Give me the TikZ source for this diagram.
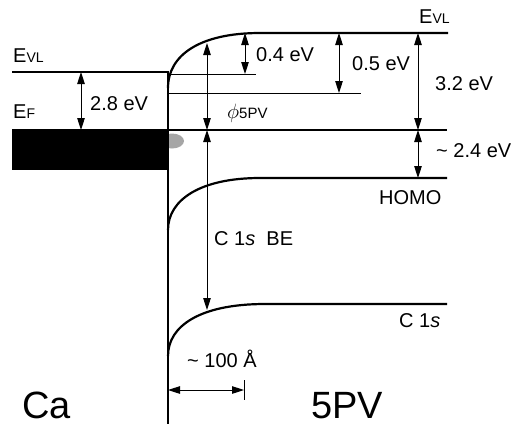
\documentclass[tikz,border=0pt]{standalone}
\usepackage{fontspec}
\setmainfont{Liberation Sans}
\usetikzlibrary{arrows.meta}

\newcommand{\lvlE}[1]{E{\fontsize{14}{16}\selectfont #1}}

\begin{document}
\begin{tikzpicture}[x=1pt, y=-1pt,
    level/.style={line width=2.2pt},
    thinlevel/.style={line width=1pt},
    dim/.style={line width=1pt, {Triangle[length=12pt,width=7.5pt]}-{Triangle[length=12pt,width=7.5pt]}},
    lbl/.style={font=\fontsize{20}{22}\selectfont, inner sep=0pt, anchor=base west},
    big/.style={font=\fontsize{38}{40}\selectfont, inner sep=0pt, anchor=base west},
]
    \useasboundingbox (0,0) rectangle (512,424);

    % metal side
    \fill[gray!70] (172,141) ellipse [x radius=12, y radius=7.5];
    \fill[black] (12,130) rectangle (168,170);
    \draw[level] (12,72) -- (168,72) -- (168,424);
    \draw[level] (12,130) -- (447,130);

    % 5PV levels with band bending
    \draw[level] (168,88) .. controls (168,55) and (200,33) .. (260,33) -- (448,33);
    \draw[level] (168,230) .. controls (168,200) and (200,178) .. (260,178) -- (447,178);
    \draw[level] (168,356) .. controls (168,326) and (200,304) .. (265,304) -- (447,304);
    \draw[thinlevel] (168,74) -- (256,74);
    \draw[thinlevel] (168,93) -- (361,93);

    % arrow ends
    \coordinate (caVL) at (81,72);
    \coordinate (caF) at (81,130);
    \coordinate (phiTop) at (207,43);
    \coordinate (phiBot) at (207,130);
    \coordinate (beBot) at (207,310);
    \coordinate (dA) at (245,33);
    \coordinate (dAbot) at (245,74);
    \coordinate (dB) at (339,33);
    \coordinate (dBbot) at (339,93);
    \coordinate (vlR) at (418,33);
    \coordinate (efR) at (418,130);
    \coordinate (homoR) at (418,178);
    \coordinate (wL) at (168,390);
    \coordinate (wR) at (244,390);

    \draw[dim] (caVL) -- (caF);
    \draw[dim] (phiTop) -- (phiBot);
    \draw[dim] (phiBot) -- (beBot);
    \draw[dim] (dA) -- (dAbot);
    \draw[dim] (dB) -- (dBbot);
    \draw[dim] (vlR) -- (efR);
    \draw[dim] (efR) -- (homoR);
    \draw[dim] (wL) -- (wR);
    \draw[thinlevel] (244,380) -- (244,400);

    % labels
    \node[lbl] (evlL) at (13,62) {\lvlE{VL}};
    \node[lbl] (efL) at (13,118) {\lvlE{F}};
    \node[lbl] (evlR) at (419,23) {\lvlE{VL}};
    \node[lbl] (e28) at (90,110) {2.8 eV};
    \node[lbl] (phi) at (227,118) {$\phi$\fontsize{15}{17}\selectfont 5PV};
    \node[lbl] (e04) at (256,61) {0.4 eV};
    \node[lbl] (e05) at (352,70) {0.5 eV};
    \node[lbl] (e32) at (435,90) {3.2 eV};
    \node[lbl] (e24) at (436,157) {\textasciitilde\ 2.4 eV};
    \node[lbl] (homo) at (379,204) {HOMO};
    \node[lbl] (be) at (214,245) {C 1\textit{s}\ \ BE};
    \node[lbl] (c1s) at (399,327) {C 1\textit{s}};
    \node[lbl] (width) at (187,367) {\textasciitilde\ 100 Å};
    \node[big] (ca) at (22,418) {Ca};
    \node[big] (pv) at (311,418) {5PV};
\end{tikzpicture}
\end{document}
